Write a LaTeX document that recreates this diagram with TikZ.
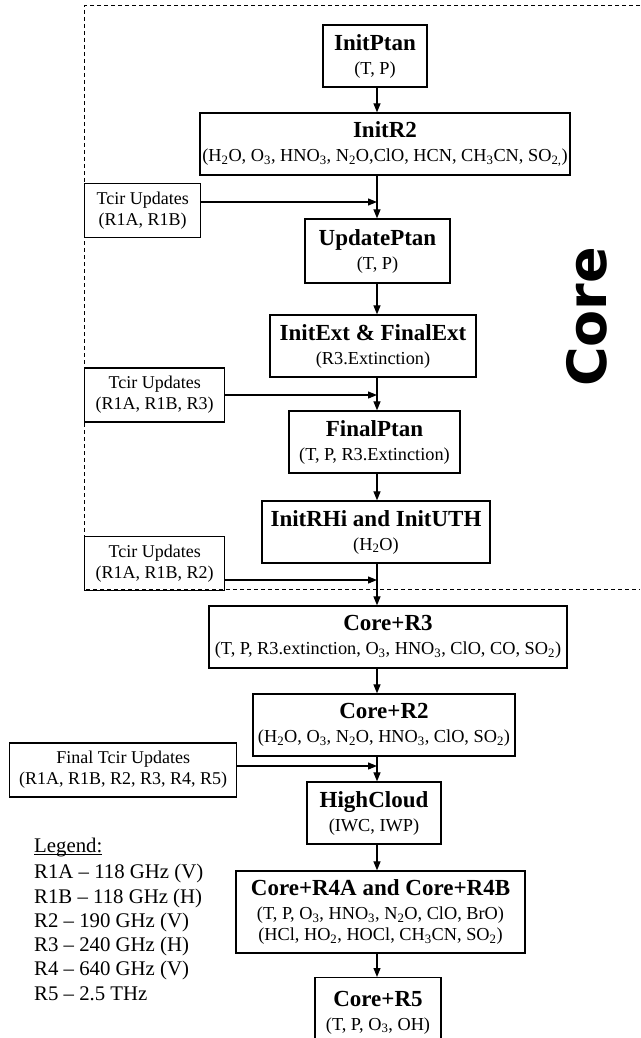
\documentclass[tikz,border=0pt]{standalone}
\usepackage{fontspec}
\setmainfont{Liberation Serif}
\newfontfamily\coresans{DejaVu Sans}
\usetikzlibrary{arrows.meta}

\newcommand{\chem}[1]{\textsubscript{#1}}
\newcommand{\stagetitle}[1]{{\fontsize{23}{25}\selectfont\bfseries #1}\\[3pt]}
\newcommand{\legendhead}[1]{\setbox0\hbox{#1}\rlap{\rule[-2pt]{\wd0}{1pt}}#1}

\tikzset{
  stage/.style = {draw, line width = 1.3pt, align = center, fill = white,
                  inner xsep = 2pt, inner ysep = 4pt, minimum height = 62pt,
                  font = \fontsize{18.3}{21}\selectfont},
  tcir/.style = {draw, line width = 1.3pt, align = center, anchor = west,
                 inner xsep = 2pt, minimum height = 54pt,
                 font = \fontsize{18}{21}\selectfont},
  legend/.style = {anchor = north west, inner sep = 0pt, align = left,
                   font = \fontsize{20.8}{24.3}\selectfont},
  flow/.style = {-{Triangle[length = 9pt, width = 7pt]}, line width = 1.2pt},
  frame/.style = {dash pattern = on 4pt off 3pt, line width = 1pt}
}

\begin{document}
\begin{tikzpicture}[x = 1pt, y = -1pt]
  \useasboundingbox (0,0) rectangle (640,1038);
  \draw [frame] (640,6) -- (84,6) -- (84,589) -- (640,589);
  \coordinate (spine) at (377,0);

  % core chain
  \node [stage, minimum width = 104pt] (initptan) at (375,56) {\stagetitle{InitPtan}(T, P)};
  \node [stage, minimum width = 370pt] (initr2) at (385,144)
        {\stagetitle{InitR2}(H\chem{2}O, O\chem{3}, HNO\chem{3}, N\chem{2}O,ClO, HCN, CH\chem{3}CN, SO\chem{2,})};
  \node [stage, minimum width = 145pt, minimum height = 64pt] (updateptan) at (377.5,251)
        {\stagetitle{UpdatePtan}(T, P)};
  \node [stage, minimum width = 206pt] (initext) at (373,346)
        {\stagetitle{InitExt \& FinalExt}(R3.Extinction)};
  \node [stage, minimum width = 171pt] (finalptan) at (374.5,442)
        {\stagetitle{FinalPtan}(T, P, R3.Extinction)};
  \node [stage, minimum width = 228pt] (initrhi) at (376,532)
        {\stagetitle{InitRHi and InitUTH}(H\chem{2}O)};

  % after the core
  \node [stage, minimum width = 358pt] (corer3) at (388,637)
        {\stagetitle{Core+R3}(T, P, R3.extinction, O\chem{3}, HNO\chem{3}, ClO, CO, SO\chem{2})};
  \node [stage, minimum width = 262pt] (corer2) at (384,725)
        {\stagetitle{Core+R2}(H\chem{2}O, O\chem{3}, N\chem{2}O, HNO\chem{3}, ClO, SO\chem{2})};
  \node [stage, minimum width = 134pt] (highcloud) at (374,813)
        {\stagetitle{HighCloud}(IWC, IWP)};
  \node [stage, minimum width = 289pt, minimum height = 82pt] (corer4) at (380.5,912)
        {\stagetitle{Core+R4A and Core+R4B}(T, P, O\chem{3}, HNO\chem{3}, N\chem{2}O, ClO, BrO)\\
         (HCl, HO\chem{2}, HOCl, CH\chem{3}CN, SO\chem{2})};
  \node [stage, minimum width = 126pt, minimum height = 70pt, anchor = north] (corer5) at (378,977)
        {\stagetitle{Core+R5}(T, P, O\chem{3}, OH)};

  \foreach \a/\b in {initptan/initr2, initr2/updateptan, updateptan/initext,
                     initext/finalptan, finalptan/initrhi, initrhi/corer3,
                     corer3/corer2, corer2/highcloud, highcloud/corer4,
                     corer4/corer5}
    \draw [flow] (spine |- \a.south) -- (spine |- \b.north);

  % Tcir updates
  \node [tcir, minimum width = 116pt] (tcira) at (84,210.5) {Tcir Updates\\(R1A, R1B)};
  \node [tcir, minimum width = 140pt] (tcirb) at (84,395) {Tcir Updates\\(R1A, R1B, R3)};
  \node [tcir, minimum width = 140pt] (tcirc) at (84,563.5) {Tcir Updates\\(R1A, R1B, R2)};
  \node [tcir, minimum width = 227pt] (tcirfinal) at (9,770)
        {Final Tcir Updates\\(R1A, R1B, R2, R3, R4, R5)};

  \draw [flow] ([yshift = 8.5pt]tcira.east) -- ([yshift = 8.5pt]tcira.east -| spine);
  \draw [flow] (tcirb.east) -- (tcirb.east -| spine);
  \draw [flow] ([yshift = -16.5pt]tcirc.east) -- ([yshift = -16.5pt]tcirc.east -| spine);
  \draw [flow] ([yshift = 4pt]tcirfinal.east) -- ([yshift = 4pt]tcirfinal.east -| spine);

  \node [rotate = 90, font = \coresans\bfseries\fontsize{54}{54}\selectfont]
        (corelabel) at (587,317) {Core};

  \node [legend] (legend) at (34,838)
        {\legendhead{Legend:}\\[1.8pt]
         R1A – 118 GHz (V)\\
         R1B – 118 GHz (H)\\
         R2 – 190 GHz (V)\\
         R3 – 240 GHz (H)\\
         R4 – 640 GHz (V)\\
         R5 – 2.5 THz};
\end{tikzpicture}
\end{document}
